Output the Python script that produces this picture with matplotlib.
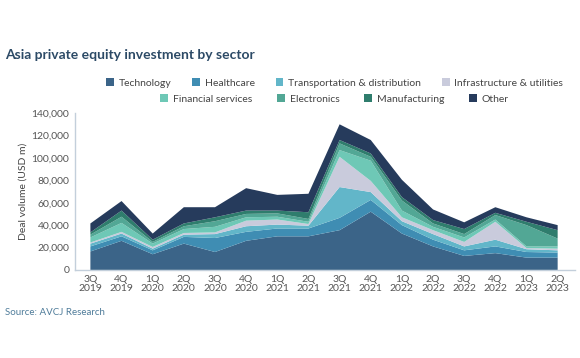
import numpy as np
import matplotlib
matplotlib.use("Agg")
import matplotlib.pyplot as plt
from matplotlib.patches import Patch

plt.rcParams["font.family"] = ["Lato", "DejaVu Sans"]

quarters = ["3Q\n2019", "4Q\n2019", "1Q\n2020", "2Q\n2020", "3Q\n2020", "4Q\n2020",
            "1Q\n2021", "2Q\n2021", "3Q\n2021", "4Q\n2021", "1Q\n2022", "2Q\n2022",
            "3Q\n2022", "4Q\n2022", "1Q\n2023", "2Q\n2023"]

# deal volume per sector, USD m
technology = [16500, 26000, 14000, 23500, 16000, 26000, 30000, 30000, 35500, 52000, 32500, 21000, 12500, 15000, 11000, 11000]
healthcare = [4500, 4000, 3500, 6000, 12500, 8000, 7000, 7000, 11000, 10500, 7500, 6000, 5000, 6000, 5000, 4500]
transport = [2500, 2500, 1500, 2000, 3500, 5000, 3500, 2500, 27500, 7000, 3500, 5000, 3500, 6000, 2500, 2000]
infrastructure = [1000, 1500, 1500, 1500, 1500, 5000, 4500, 1500, 27000, 10000, 3500, 3500, 4000, 16000, 1000, 1500]
financial = [4500, 8000, 3000, 3500, 5000, 3000, 2500, 2000, 6000, 18000, 6000, 3000, 4000, 2000, 1500, 2000]
electronics = [2500, 5500, 1500, 2500, 5000, 3000, 3000, 2500, 6000, 3500, 9000, 3000, 3000, 4000, 19000, 7000]
manufacturing = [2000, 5500, 2000, 2500, 3500, 3000, 2500, 6000, 3000, 3000, 3000, 3000, 4500, 2000, 3000, 7500]
other = [8000, 8500, 5500, 14500, 9000, 20000, 14000, 16500, 14000, 12000, 15500, 9500, 6000, 5000, 4000, 4500]

sectors = ["Technology", "Healthcare", "Transportation & distribution", "Infrastructure & utilities",
           "Financial services", "Electronics", "Manufacturing", "Other"]
colors = ["#3b6488", "#3f8db3", "#62b6c9", "#c9cbdc", "#6ec8b6", "#52a795", "#2f7d6d", "#263b5c"]

fig = plt.figure(figsize=(5.8, 3.58), dpi=100)
ax = fig.add_axes([0.129, 0.246, 0.862, 0.438])

x = np.arange(len(quarters))
ax.stackplot(x, technology, healthcare, transport, infrastructure, financial,
             electronics, manufacturing, other, colors=colors, linewidth=0)

ax.set_xlim(-0.5, len(quarters) - 0.45)
ax.set_ylim(0, 140000)
ax.set_yticks(np.arange(0, 140001, 20000))
ax.set_yticklabels([f"{v:,}" for v in range(0, 140001, 20000)])
ax.set_xticks(x)
ax.set_xticklabels(quarters, linespacing=0.95)
ax.tick_params(length=0, labelsize=7.5, labelcolor="#555555", pad=4)
for s in ["top", "right"]:
    ax.spines[s].set_visible(False)
for s in ["left", "bottom"]:
    ax.spines[s].set_color("#c3cfdb")
    ax.spines[s].set_linewidth(1)
ax.set_ylabel("Deal volume (USD m)", fontsize=7.5, color="#444444", labelpad=3)

fig.text(0.009, 0.845, "Asia private equity investment by sector", fontsize=10,
         fontweight="bold", color="#2c4a66", va="center")
fig.text(0.009, 0.128, "Source: AVCJ Research", fontsize=7, color="#4f7c9a", va="center")

handles = [Patch(facecolor=c, edgecolor="none") for c in colors]
leg_kw = dict(loc="center", ncol=4, frameon=False, fontsize=7.5, handlelength=0.75,
              handleheight=0.75, handletextpad=0.45, columnspacing=2.0, labelcolor="#444444",
              borderpad=0, borderaxespad=0)
fig.legend(handles[:4], sectors[:4], bbox_to_anchor=(0.577, 1 - 83 / 358), **leg_kw)
fig.legend(handles[4:], sectors[4:], bbox_to_anchor=(0.577, 1 - 99 / 358),
           **{**leg_kw, "columnspacing": 2.4})

fig.savefig("out.png", dpi=100)
